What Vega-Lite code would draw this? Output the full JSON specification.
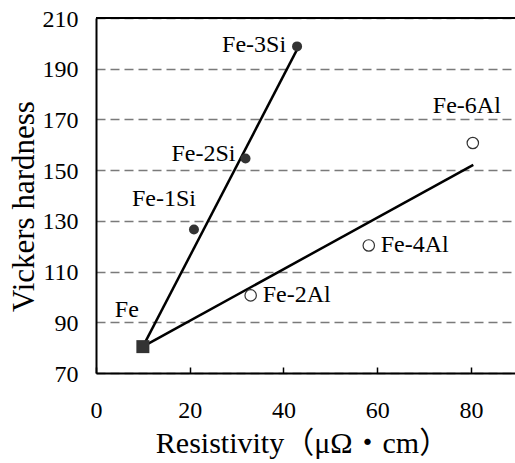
{
  "$schema": "https://vega.github.io/schema/vega-lite/v6.json",
  "width": 419,
  "height": 355,
  "autosize": {"type": "none"},
  "padding": {"left": 96, "top": 18, "right": 0, "bottom": 90},
  "background": "white",
  "config": {
    "view": {"stroke": null},
    "font": "Liberation Serif, Times New Roman, serif",
    "text": {"font": "Liberation Serif, Times New Roman, serif"},
    "axis": {"labelFont": "Liberation Serif, Times New Roman, serif", "titleFont": "Liberation Serif, Times New Roman, serif"}
  },
  "datasets": {
    "points": [
      {"label": "Fe", "kind": "Fe", "r": 10, "hv": 80.4},
      {"label": "Fe-1Si", "kind": "Si", "r": 20.9, "hv": 126.6},
      {"label": "Fe-2Si", "kind": "Si", "r": 31.9, "hv": 154.6},
      {"label": "Fe-3Si", "kind": "Si", "r": 42.9, "hv": 198.8},
      {"label": "Fe-2Al", "kind": "Al", "r": 33, "hv": 100.6},
      {"label": "Fe-4Al", "kind": "Al", "r": 58.2, "hv": 120.3},
      {"label": "Fe-6Al", "kind": "Al", "r": 80.4, "hv": 160.7}
    ],
    "fits": [
      {"series": "Si", "r": 10, "hv": 80.4},
      {"series": "Si", "r": 43, "hv": 197.9},
      {"series": "Al", "r": 10, "hv": 80.4},
      {"series": "Al", "r": 80.5, "hv": 152.1}
    ]
  },
  "data": {"name": "points"},
  "encoding": {
    "x": {
      "field": "r", "type": "quantitative",
      "scale": {"domain": [0, 89.4], "nice": false, "zero": false},
      "axis": {
        "title": "Resistivity（μΩ・cm）",
        "values": [0, 20, 40, 60, 80],
        "grid": false,
        "domainColor": "black", "domainWidth": 2,
        "tickColor": "black", "tickWidth": 1.5, "tickSize": -6,
        "labelFontSize": 24, "labelColor": "black",
        "labelPadding": 31, "labelFlush": false, "labelOverlap": false,
        "titleFont": "Liberation Serif, Times New Roman, Noto Sans CJK JP, serif",
        "titleFontSize": 30, "titleFontWeight": "normal",
        "titleColor": "black", "titleBaseline": "alphabetic", "titleAlign": "center",
        "titleX": 206, "titleY": 79
      }
    },
    "y": {
      "field": "hv", "type": "quantitative",
      "scale": {"domain": [70, 210], "nice": false, "zero": false},
      "axis": {
        "title": "Vickers hardness",
        "values": [70, 90, 110, 130, 150, 170, 190, 210],
        "grid": true, "gridDash": [9, 5], "gridColor": "#7a7a7a", "gridWidth": 1.5,
        "ticks": false,
        "domainColor": "black", "domainWidth": 2,
        "labelFontSize": 24, "labelColor": "black",
        "labelPadding": 18, "labelOffset": 1, "labelFlush": false, "labelOverlap": false,
        "titleFontSize": 31, "titleFontWeight": "normal",
        "titleColor": "black", "titleBaseline": "alphabetic", "titleAlign": "center",
        "titleAngle": -90, "titleX": -63, "titleY": 188
      }
    }
  },
  "layer": [
    {
      "mark": {"type": "rule", "stroke": "black", "strokeWidth": 2},
      "encoding": {"x": {"datum": 0}, "x2": {"datum": 89.4}, "y": {"datum": 210}}
    },
    {
      "data": {"name": "fits"},
      "mark": {"type": "line", "stroke": "black", "strokeWidth": 2.5},
      "encoding": {"detail": {"field": "series"}}
    },
    {
      "transform": [{"filter": "datum.kind == 'Fe'"}],
      "mark": {"type": "square", "size": 169, "fill": "#333333", "opacity": 1}
    },
    {
      "transform": [{"filter": "datum.kind == 'Si'"}],
      "mark": {"type": "circle", "size": 100, "fill": "#333333", "opacity": 1}
    },
    {
      "transform": [{"filter": "datum.kind == 'Al'"}],
      "mark": {"type": "point", "shape": "circle", "size": 130, "filled": false, "stroke": "#333333", "strokeWidth": 1.2, "opacity": 1}
    },
    {
      "transform": [{"filter": "datum.label == 'Fe-3Si'"}],
      "mark": {"type": "text", "fontSize": 24, "fontWeight": "normal", "color": "black", "align": "right", "baseline": "middle", "dx": -11, "dy": -1},
      "encoding": {"text": {"field": "label"}}
    },
    {
      "transform": [{"filter": "datum.label == 'Fe-2Si'"}],
      "mark": {"type": "text", "fontSize": 24, "fontWeight": "normal", "color": "black", "align": "right", "baseline": "middle", "dx": -10, "dy": -4},
      "encoding": {"text": {"field": "label"}}
    },
    {
      "transform": [{"filter": "datum.label == 'Fe-1Si'"}],
      "mark": {"type": "text", "fontSize": 24, "fontWeight": "normal", "color": "black", "align": "right", "baseline": "middle", "dx": 2, "dy": -30},
      "encoding": {"text": {"field": "label"}}
    },
    {
      "transform": [{"filter": "datum.label == 'Fe'"}],
      "mark": {"type": "text", "fontSize": 24, "fontWeight": "normal", "color": "black", "align": "right", "baseline": "middle", "dx": -4, "dy": -37},
      "encoding": {"text": {"field": "label"}}
    },
    {
      "transform": [{"filter": "datum.label == 'Fe-6Al'"}],
      "mark": {"type": "text", "fontSize": 24, "fontWeight": "normal", "color": "black", "align": "center", "baseline": "middle", "dx": -6, "dy": -37},
      "encoding": {"text": {"field": "label"}}
    },
    {
      "transform": [{"filter": "datum.kind == 'Al' && datum.label != 'Fe-6Al'"}],
      "mark": {"type": "text", "fontSize": 24, "fontWeight": "normal", "color": "black", "align": "left", "baseline": "middle", "dx": 12, "dy": 0},
      "encoding": {"text": {"field": "label"}}
    }
  ]
}
